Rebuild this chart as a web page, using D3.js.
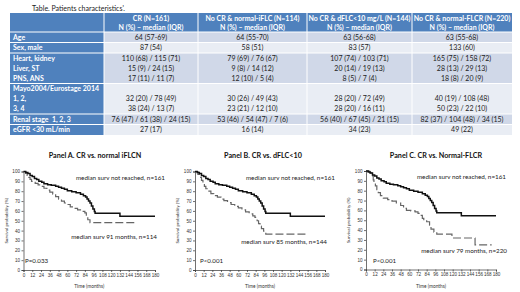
<!DOCTYPE html>
<html>
<head>
<meta charset="utf-8">
<script src="https://cdn.jsdelivr.net/npm/d3@7"></script>
<style>
  body { margin: 0; background: #fff; }
  svg { display: block; font-family: Lato, "Open Sans", sans-serif; }
</style>
</head>
<body>
<div id="chart"></div>
<script>
// ---- table data ----
const colHeaders = ["CR (N=161)", "No CR & normal-iFLC (N=114)", "No CR & dFLC<10 mg/L (N=144)", "No CR & normal-FLCR (N=220)"];
const colSubHeader = "N (%) \u2013 median (IQR)";
const rowLabels = [
  ["Age"],
  ["Sex, male"],
  ["Heart, kidney", "Liver, ST", "PNS, ANS"],
  ["Mayo2004/Eurostage 2014", "1, 2,", "3, 4"],
  ["Renal stage  1, 2, 3"],
  ["eGFR <30 mL/min"]
];
const crValues = [["64 (57-69)"], ["87 (54)"], ["110 (68) / 115 (71)", "15 (9) / 24 (15)", "17 (11) / 11 (7)"], ["", "32 (20) / 78 (49)", "38 (24) / 13 (7)"], ["76 (47) / 61 (38) / 24 (15)"], ["27 (17)"]];
const iflcValues = [["64 (55-70)"], ["58 (51)"], ["79 (69) / 76 (67)", "9 (8) / 14 (12)", "12 (10) / 5 (4)"], ["", "30 (26) / 49 (43)", "23 (21) / 12 (10)"], ["53 (46) / 54 (47) / 7 (6)"], ["16 (14)"]];
const dflcValues = [["63 (56-68)"], ["83 (57)"], ["107 (74) / 103 (71)", "20 (14) / 19 (13)", "8 (5) / 7 (4)"], ["", "28 (20) / 72 (49)", "28 (20) / 16 (11)"], ["56 (40) / 67 (45) / 21 (15)"], ["34 (23)"]];
const flcrValues = [["63 (55-68)"], ["133 (60)"], ["165 (75) / 158 (72)", "28 (13) / 29 (13)", "18 (8) / 20 (9)"], ["", "40 (19) / 108 (48)", "50 (23) / 22 (10)"], ["82 (37) / 104 (48) / 34 (15)"], ["49 (22)"]];

// ---- survival curves: [month, survival %] ----
const crCurve = [[0,100],[3,99],[6,98],[9,96],[12,95],[15,93],[18,92],[21,90],[25,89],[28,87.5],[33,86.5],[38,86],[44,85],[48,84],[52,83],[56,82],[60,80.5],[66,79.5],[72,78.5],[78,77],[82,75.5],[85,74],[87,72],[89,70],[91,68],[93,65],[95,62],[97,59.5],[98,57.5],[132,54.5],[180,54.5]];
const iflcCurve = [[0,100],[3,98],[5,96],[7,94],[9,92],[11,90],[13,89],[16,88],[20,86.5],[24,85],[28,83],[32,81],[36,79],[40,77],[44,74.5],[48,72],[52,70],[56,68],[60,66.5],[64,64],[68,62.5],[74,61],[80,59.5],[84,58],[86,54],[88,51],[91,48],[152,48]];
const dflcCurve = [[0,100],[4,97],[7,94],[9,91],[11,88],[13,85],[15,82.5],[18,80],[22,77.5],[26,75.5],[31,74],[36,72],[40,70.5],[45,68.5],[50,66.5],[55,64.5],[60,63],[65,61],[70,59],[75,57],[80,55],[83,53.5],[86,50],[88,47],[90,44.5],[92,42],[95,39.5],[98,36.5],[155,36.5]];
const flcrCurve = [[0,100],[5,98],[8,95],[10,91],[11,88],[13,85],[15,81],[17,78],[20,75],[24,72.5],[30,71],[36,69.5],[42,67.5],[48,65],[52,62],[56,60],[62,59.5],[68,58.5],[72,57],[75,55],[78,52],[80,50],[84,48.5],[88,45],[90,41],[94,38],[98,36],[119,32],[151,25],[174,25]];

const monthTicks = d3.range(0, 181, 12);
const survTicks = d3.range(0, 101, 10);
const panelTitles = ["Panel A. CR vs. normal iFLCN", "Panel B. CR vs. dFLC<10", "Panel C. CR vs. Normal-FLCR"];
const crNote = "median surv not reached, n=161";
const otherNotes = ["median surv 91 months, n=114", "median surv 85 months, n=144", "median surv 79 months, n=220"];
const pValues = ["P=0.033", "P<0.001", "P<0.001"];
const otherCurves = [iflcCurve, dflcCurve, flcrCurve];

const W = 520, H = 292;
const svg = d3.select("#chart").append("svg")
    .attr("width", W)
    .attr("height", H);

// ================= table =================
svg.append("text")
    .attr("x", 32).attr("y", 10.5)
    .attr("font-size", 7).attr("fill", "#222")
    .text("Table. Patients characteristics'.");

const colEdges = [10, 104, 198, 307, 412, 512];
const blue = "#4f81bd";
const rowFill = ["#d0d8e8", "#e9edf4"];
const lineH = 10;
const tableTop = 13, headerH = 19;
const columns = [crValues, iflcValues, dflcValues, flcrValues];

// header
const header = svg.append("g");
header.append("rect")
    .attr("x", colEdges[0]).attr("y", tableTop)
    .attr("width", colEdges[5] - colEdges[0]).attr("height", headerH)
    .attr("fill", blue);
colHeaders.forEach((h, i) => {
    const cx = (colEdges[i + 1] + colEdges[i + 2]) / 2;
    header.append("text")
        .attr("x", cx).attr("y", tableTop + 7.5)
        .attr("text-anchor", "middle").attr("font-size", 7)
        .attr("font-weight", "bold").attr("fill", "#fff")
        .text(h);
    header.append("text")
        .attr("x", cx).attr("y", tableTop + 16.5)
        .attr("text-anchor", "middle").attr("font-size", 7)
        .attr("font-weight", "bold").attr("fill", "#fff")
        .text(colSubHeader);
});

// body rows
let y0 = tableTop + headerH;
rowLabels.forEach((labels, r) => {
    const h = labels.length * lineH + 0.5;
    svg.append("rect")
        .attr("x", colEdges[0]).attr("y", y0)
        .attr("width", colEdges[1] - colEdges[0]).attr("height", h)
        .attr("fill", blue);
    svg.append("rect")
        .attr("x", colEdges[1]).attr("y", y0)
        .attr("width", colEdges[5] - colEdges[1]).attr("height", h)
        .attr("fill", rowFill[r % 2]);
    labels.forEach((t, k) => {
        svg.append("text")
            .attr("x", colEdges[0] + 3).attr("y", y0 + 7.8 + k * lineH)
            .attr("font-size", 7).attr("font-weight", "bold").attr("fill", "#fff")
            .attr("xml:space", "preserve")
            .text(t);
    });
    columns.forEach((col, c) => {
        const cx = (colEdges[c + 1] + colEdges[c + 2]) / 2;
        col[r].forEach((t, k) => {
            svg.append("text")
                .attr("x", cx).attr("y", y0 + 7.8 + k * lineH)
                .attr("text-anchor", "middle").attr("font-size", 7).attr("fill", "#222")
                .text(t);
        });
    });
    // white separator
    svg.append("line")
        .attr("x1", colEdges[0]).attr("x2", colEdges[5])
        .attr("y1", y0).attr("y2", y0)
        .attr("stroke", "#fff").attr("stroke-width", 1);
    y0 += h;
});
colEdges.slice(1, 5).forEach(x => {
    svg.append("line")
        .attr("x1", x).attr("x2", x)
        .attr("y1", tableTop).attr("y2", y0)
        .attr("stroke", "#fff").attr("stroke-width", 1);
});

// ================= KM panels =================
const panels = [
    {x0: 23.5, x1: 155, yTop: 171.5, yBot: 270, title: 95},
    {x0: 195, x1: 325, yTop: 171.5, yBot: 270, title: 263},
    {x0: 366, x1: 496, yTop: 171, yBot: 269.5, title: 436}
];

panels.forEach((p, i) => {
    const g = svg.append("g");
    const x = d3.scaleLinear().domain([0, 180]).range([p.x0, p.x1]);
    const y = d3.scaleLinear().domain([0, 100]).range([p.yBot, p.yTop]);

    g.append("text")
        .attr("x", p.title).attr("y", 157.5)
        .attr("text-anchor", "middle").attr("font-size", 7.2)
        .attr("font-weight", "bold").attr("fill", "#111")
        .text(panelTitles[i]);

    const xAxis = d3.axisBottom(x).tickValues(monthTicks).tickSize(2).tickPadding(1.5);
    const yAxis = d3.axisLeft(y).tickValues(survTicks).tickSize(2).tickPadding(1.5);

    g.append("g")
        .attr("transform", "translate(0," + p.yBot + ")")
        .call(xAxis)
        .call(a => a.selectAll("text").attr("font-size", 4.6).attr("fill", "#333"))
        .call(a => a.selectAll("line, path").attr("stroke", "#333").attr("stroke-width", 0.7));

    g.append("g")
        .attr("transform", "translate(" + p.x0 + ",0)")
        .call(yAxis)
        .call(a => a.selectAll("text").attr("font-size", 4.6).attr("fill", "#333"))
        .call(a => a.selectAll("line, path").attr("stroke", "#333").attr("stroke-width", 0.7));

    g.append("text")
        .attr("x", (p.x0 + p.x1) / 2).attr("y", 288)
        .attr("text-anchor", "middle").attr("font-size", 4.8).attr("fill", "#333")
        .text("Time (months)");

    g.append("text")
        .attr("transform", "translate(" + (p.x0 - 16) + "," + ((p.yTop + p.yBot) / 2) + ") rotate(-90)")
        .attr("text-anchor", "middle").attr("font-size", 4.6).attr("fill", "#333")
        .text("Survival probability (%)");

    const line = d3.line()
        .x(d => x(d[0]))
        .y(d => y(d[1]))
        .curve(d3.curveStepAfter);

    g.append("path")
        .datum(otherCurves[i])
        .attr("d", line)
        .attr("fill", "none")
        .attr("stroke", "#666")
        .attr("stroke-width", 1.2)
        .attr("stroke-dasharray", "8,3");

    g.append("path")
        .datum(crCurve)
        .attr("d", line)
        .attr("fill", "none")
        .attr("stroke", "#111")
        .attr("stroke-width", 1.5);

    g.append("text")
        .attr("x", p.x1 + 10).attr("y", y(92) + 0.5)
        .attr("text-anchor", "end").attr("font-size", 6.3).attr("fill", "#222")
        .text(crNote);

    const noteY = [31, 26, 17][i];
    g.append("text")
        .attr("x", p.x1 + [2, 2, 11][i]).attr("y", y(noteY))
        .attr("text-anchor", "end").attr("font-size", 6.3).attr("fill", "#222")
        .text(otherNotes[i]);

    g.append("text")
        .attr("x", x(0) + [1.5, 5, 7][i]).attr("y", y(9) + 2)
        .attr("font-size", 6.2).attr("fill", "#222")
        .text(pValues[i]);
});
</script>
</body>
</html>
